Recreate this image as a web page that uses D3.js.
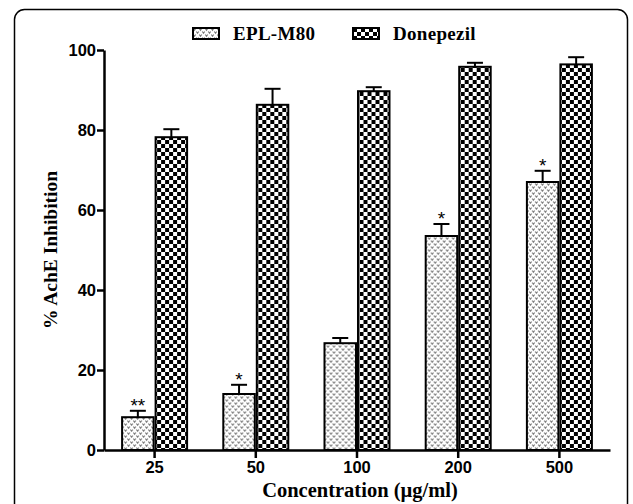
<!DOCTYPE html>
<html>
<head>
<meta charset="utf-8">
<script src="https://cdn.jsdelivr.net/npm/d3@7.9.0/dist/d3.min.js"></script>
<style>
  body { margin: 0; background: #fff; }
  svg { display: block; }
</style>
</head>
<body>
<svg></svg>
<script>
const concentrations = ["25", "50", "100", "200", "500"];
const seriesNames = ["EPL-M80", "Donepezil"];
const eplValues = [8.2, 14.0, 26.7, 53.5, 67.0];
const eplErrors = [1.6, 2.3, 1.3, 3.0, 2.8];
const donepezilValues = [78.2, 86.3, 89.7, 95.8, 96.4];
const donepezilErrors = [2.0, 4.0, 1.0, 1.0, 1.8];
const eplStars = ["**", "*", "", "*", "*"];
const yTicks = [0, 20, 40, 60, 80, 100];

const width = 633, height = 504;
const margin = { left: 104, right: 23, top: 50, bottom: 54 };

const svg = d3.select("svg")
    .attr("width", width)
    .attr("height", height);

// patterns
const defs = svg.append("defs");
const dots = defs.append("pattern")
    .attr("id", "dots")
    .attr("patternUnits", "userSpaceOnUse")
    .attr("width", 6).attr("height", 6);
dots.append("rect").attr("width", 6).attr("height", 6).attr("fill", "#fff");
dots.append("path").attr("d", "M0.3,0.5 L1.5,2.2 L2.7,0.5").attr("stroke", "#777").attr("stroke-width", 1.1).attr("fill", "none");
dots.append("path").attr("d", "M3.3,3.5 L4.5,5.2 L5.7,3.5").attr("stroke", "#777").attr("stroke-width", 1.1).attr("fill", "none");

const checker = defs.append("pattern")
    .attr("id", "checker")
    .attr("patternUnits", "userSpaceOnUse")
    .attr("width", 8).attr("height", 8);
checker.append("rect").attr("width", 8).attr("height", 8).attr("fill", "#fff");
checker.append("rect").attr("width", 4).attr("height", 4).attr("fill", "#000");
checker.append("rect").attr("x", 4).attr("y", 4).attr("width", 4).attr("height", 4).attr("fill", "#000");

// outer frame
svg.append("rect")
    .attr("x", 14.5).attr("y", 9.5)
    .attr("width", 613).attr("height", 520)
    .attr("rx", 10)
    .attr("fill", "none")
    .attr("stroke", "#000")
    .attr("stroke-width", 1.5);

const x = d3.scaleBand()
    .domain(concentrations)
    .range([margin.left, width - margin.right]);

const y = d3.scaleLinear()
    .domain([0, 100])
    .range([height - margin.bottom, margin.top]);

const inner = d3.scaleBand()
    .domain(seriesNames)
    .range([0, 67]);

const rows = concentrations.map((c, i) => ({
    c,
    groups: [
        { name: "EPL-M80", v: eplValues[i], e: eplErrors[i], star: eplStars[i], fill: "url(#dots)" },
        { name: "Donepezil", v: donepezilValues[i], e: donepezilErrors[i], star: "", fill: "url(#checker)" }
    ]
}));

const g = svg.selectAll(".grp")
    .data(rows)
    .enter().append("g")
    .attr("transform", d => `translate(${x(d.c) + x.bandwidth() / 2 - 33.5},0)`);

const bar = g.selectAll(".bar")
    .data(d => d.groups)
    .enter().append("g");

// error bars (upward only)
bar.append("line")
    .attr("x1", d => inner(d.name) + inner.bandwidth() / 2)
    .attr("x2", d => inner(d.name) + inner.bandwidth() / 2)
    .attr("y1", d => y(d.v))
    .attr("y2", d => y(d.v + d.e))
    .attr("stroke", "#000").attr("stroke-width", 2);
bar.append("line")
    .attr("x1", d => inner(d.name) + inner.bandwidth() / 2 - 8)
    .attr("x2", d => inner(d.name) + inner.bandwidth() / 2 + 8)
    .attr("y1", d => y(d.v + d.e))
    .attr("y2", d => y(d.v + d.e))
    .attr("stroke", "#000").attr("stroke-width", 2);

bar.append("rect")
    .attr("x", d => inner(d.name) + 1)
    .attr("y", d => y(d.v))
    .attr("width", inner.bandwidth() - 2)
    .attr("height", d => y(0) - y(d.v))
    .attr("fill", d => d.fill)
    .attr("stroke", "#000")
    .attr("stroke-width", 2);

bar.append("text")
    .attr("x", d => inner(d.name) + inner.bandwidth() / 2)
    .attr("y", d => y(d.v + d.e) + 1)
    .attr("text-anchor", "middle")
    .attr("font-family", "Liberation Sans, Arial, sans-serif")
    .attr("font-size", 19)
    .text(d => d.star);

// axes
const yAxis = svg.append("g")
    .attr("transform", `translate(${margin.left},0)`)
    .call(d3.axisLeft(y).tickValues(yTicks).tickSize(7).tickSizeOuter(0));
const xAxis = svg.append("g")
    .attr("transform", `translate(0,${height - margin.bottom})`)
    .call(d3.axisBottom(x).tickSize(8).tickSizeOuter(0));

[yAxis, xAxis].forEach(a => {
    a.select(".domain").attr("stroke-width", 2.5);
    a.selectAll(".tick line").attr("stroke-width", 2.5);
    a.selectAll("text")
        .attr("font-family", "Liberation Sans, Arial, sans-serif")
        .attr("font-weight", "bold")
        .attr("font-size", 16.5)
        .attr("fill", "#000");
});
yAxis.selectAll("text").attr("x", -8);
xAxis.selectAll("text").attr("y", 11);

// axis titles
svg.append("text")
    .attr("transform", `translate(57,${(y(0) + y(100)) / 2}) rotate(-90)`)
    .attr("text-anchor", "middle")
    .attr("font-family", "Liberation Serif, Times New Roman, serif")
    .attr("font-weight", "bold")
    .attr("font-size", 19.5)
    .text("% AchE Inhibition");

svg.append("text")
    .attr("x", 360)
    .attr("y", 497)
    .attr("text-anchor", "middle")
    .attr("font-family", "Liberation Serif, Times New Roman, serif")
    .attr("font-weight", "bold")
    .attr("font-size", 20.5)
    .text("Concentration (\u00b5g/ml)");

// legend
const legend = svg.append("g").attr("transform", "translate(193,28)");
const legendX = d3.scaleOrdinal().domain(seriesNames).range([0, 160]);
const li = legend.selectAll(".li")
    .data([{ name: "EPL-M80", fill: "url(#dots)" }, { name: "Donepezil", fill: "url(#checker)" }])
    .enter().append("g")
    .attr("transform", d => `translate(${legendX(d.name)},0)`);
li.append("rect")
    .attr("width", 26).attr("height", 11)
    .attr("fill", d => d.fill)
    .attr("stroke", "#000").attr("stroke-width", 2);
li.append("text")
    .attr("x", 40).attr("y", 12)
    .attr("font-family", "Liberation Serif, Times New Roman, serif")
    .attr("font-weight", "bold")
    .attr("font-size", 19)
    .attr("letter-spacing", 0.3)
    .text(d => d.name);
</script>
</body>
</html>
